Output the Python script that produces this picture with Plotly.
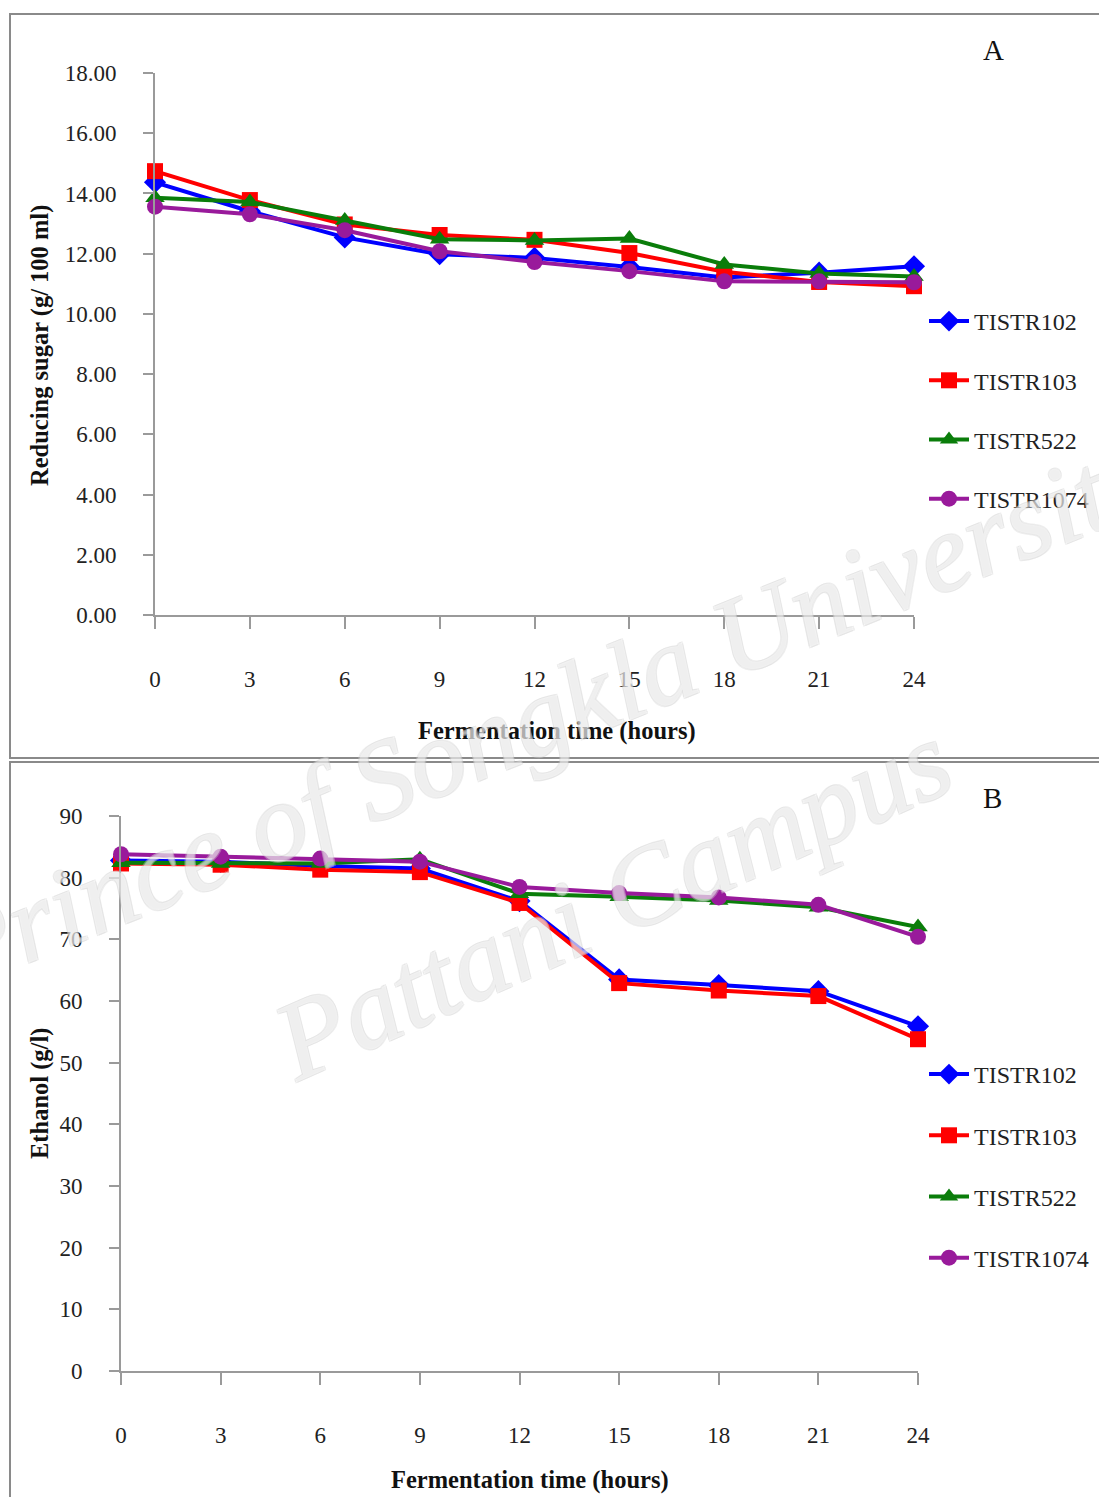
import plotly.graph_objects as go

W, H = 1099, 1497

# Fermentation sampling times (hours)
hours = [0, 3, 6, 9, 12, 15, 18, 21, 24]
strains = ["TISTR102", "TISTR103", "TISTR522", "TISTR1074"]

# Panel A: reducing sugar (g/ 100 ml)
sugar_102 = [14.37, 13.41, 12.54, 11.98, 11.86, 11.56, 11.21, 11.37, 11.58]
sugar_103 = [14.74, 13.78, 12.97, 12.62, 12.46, 12.02, 11.40, 11.06, 10.92]
sugar_522 = [13.86, 13.72, 13.10, 12.48, 12.44, 12.50, 11.64, 11.34, 11.24]
sugar_1074 = [13.56, 13.31, 12.78, 12.08, 11.72, 11.42, 11.08, 11.08, 11.05]

# Panel B: ethanol (g/l)
ethanol_102 = [82.8, 82.6, 81.9, 81.5, 76.2, 63.5, 62.6, 61.6, 55.9]
ethanol_103 = [82.3, 82.1, 81.3, 80.9, 75.9, 62.9, 61.7, 60.8, 53.8]
ethanol_522 = [82.4, 82.3, 82.3, 83.0, 77.4, 76.9, 76.3, 75.2, 72.0]
ethanol_1074 = [83.8, 83.4, 83.1, 82.6, 78.5, 77.5, 76.8, 75.6, 70.4]

sugar_ticks = [0, 2, 4, 6, 8, 10, 12, 14, 16, 18]
ethanol_ticks = [0, 10, 20, 30, 40, 50, 60, 70, 80, 90]

colors = ["#0000ff", "#ff0000", "#0a7d0a", "#991a9b"]
symbols = ["diamond", "square", "triangle-up", "circle"]
msizes = [17, 16, 17, 16]

FONT = "Liberation Serif, Times New Roman, serif"
AXIS_GREY = "#9a9a9a"


def px_x(p):
    return p / W


def px_y(p):
    return 1 - p / H


fig = go.Figure()

sugar_series = [sugar_102, sugar_103, sugar_522, sugar_1074]
ethanol_series = [ethanol_102, ethanol_103, ethanol_522, ethanol_1074]

for i, name in enumerate(strains):
    fig.add_trace(go.Scatter(
        x=hours, y=sugar_series[i], name=name, mode="lines+markers",
        line=dict(color=colors[i], width=4),
        marker=dict(symbol=symbols[i], size=msizes[i], color=colors[i]),
        xaxis="x", yaxis="y", legend="legend", legendgroup="a" + name,
        cliponaxis=False,
    ))

for i, name in enumerate(strains):
    fig.add_trace(go.Scatter(
        x=hours, y=ethanol_series[i], name=name, mode="lines+markers",
        line=dict(color=colors[i], width=4),
        marker=dict(symbol=symbols[i], size=msizes[i], color=colors[i]),
        xaxis="x2", yaxis="y2", legend="legend2", legendgroup="b" + name,
        cliponaxis=False,
    ))

tickfont = dict(family=FONT, size=23, color="#222222")

common_x = dict(
    range=[0, 24], tickvals=hours, ticks="outside", ticklen=12,
    tickcolor=AXIS_GREY, tickwidth=1.5, showline=True, linecolor=AXIS_GREY,
    linewidth=2, showgrid=False, zeroline=False, tickfont=tickfont,
    ticklabelstandoff=30, automargin=False,
)
common_y = dict(
    ticks="outside", ticklen=10, tickcolor=AXIS_GREY, tickwidth=1.5,
    showline=True, linecolor=AXIS_GREY, linewidth=2, showgrid=False,
    zeroline=False, tickfont=tickfont, ticklabelstandoff=22, automargin=False,
)

legend_font = dict(family=FONT, size=24, color="#222222")

fig.update_layout(
    width=W, height=H,
    margin=dict(l=0, r=0, t=0, b=0, pad=0, autoexpand=False),
    paper_bgcolor="white", plot_bgcolor="white",
    font=dict(family=FONT, color="#222222"),
    xaxis=dict(domain=[px_x(155), px_x(914)], anchor="y", **common_x),
    yaxis=dict(domain=[px_y(615), px_y(73)], anchor="x", range=[0, 18],
               tickvals=sugar_ticks, tickformat=".2f", **common_y),
    xaxis2=dict(domain=[px_x(121), px_x(918)], anchor="y2", **common_x),
    yaxis2=dict(domain=[px_y(1371), px_y(816)], anchor="x2", range=[0, 90],
                tickvals=ethanol_ticks, **common_y),
    legend=dict(x=px_x(924), y=px_y(299), xanchor="left", yanchor="top",
                font=legend_font, tracegroupgap=25,
                bgcolor="rgba(0,0,0,0)", itemwidth=40),
    legend2=dict(x=px_x(924), y=px_y(1052), xanchor="left", yanchor="top",
                 font=legend_font, tracegroupgap=27,
                 bgcolor="rgba(0,0,0,0)", itemwidth=40),
    showlegend=True,
)

# Panel frames
frame = dict(type="rect", xref="paper", yref="paper",
             line=dict(color="#8a8a8a", width=2), fillcolor="rgba(0,0,0,0)")
fig.add_shape(x0=px_x(10), x1=px_x(1110), y0=px_y(758), y1=px_y(14), **frame)
fig.add_shape(x0=px_x(10), x1=px_x(1110), y0=px_y(1510), y1=px_y(762), **frame)

title_font = dict(family=FONT, size=24.5, color="#111111", weight="bold")

annotations = [
    dict(text="A", x=px_x(993), y=px_y(50), font=dict(family=FONT, size=29, color="#111111")),
    dict(text="B", x=px_x(992), y=px_y(798), font=dict(family=FONT, size=29, color="#111111")),
    dict(text="Fermentation time (hours)", x=px_x(557), y=px_y(731), font=title_font),
    dict(text="Fermentation time (hours)", x=px_x(530), y=px_y(1480), font=title_font),
    dict(text="Reducing sugar (g/ 100 ml)", x=px_x(40), y=px_y(346), textangle=-90, font=title_font),
    dict(text="Ethanol (g/l)", x=px_x(40), y=px_y(1094), textangle=-90, font=title_font),
]
for a in annotations:
    fig.add_annotation(xref="paper", yref="paper", showarrow=False,
                       xanchor="center", yanchor="middle", **a)

# Watermark text: faint white letters with a thin pale-grey outline
outline = ("1px 1px 0 #d2d2d2, -1px -1px 0 #d2d2d2, "
           "1px -1px 0 #d2d2d2, -1px 1px 0 #d2d2d2")
wm_font = dict(family="Liberation Serif, serif", size=112,
               color="rgba(255,255,255,0.5)", style="italic",
               weight="normal", shadow=outline)
fig.add_annotation(text="Prince of Songkla University", x=px_x(548), y=px_y(712),
                   textangle=-22, font=wm_font, xref="paper", yref="paper",
                   showarrow=False, opacity=0.75)
fig.add_annotation(text="Pattani Campus", x=px_x(612), y=px_y(900),
                   textangle=-24, font=wm_font, xref="paper", yref="paper",
                   showarrow=False, opacity=0.75)

fig.write_html("out.html", post_script="document.body.style.margin='0';")
